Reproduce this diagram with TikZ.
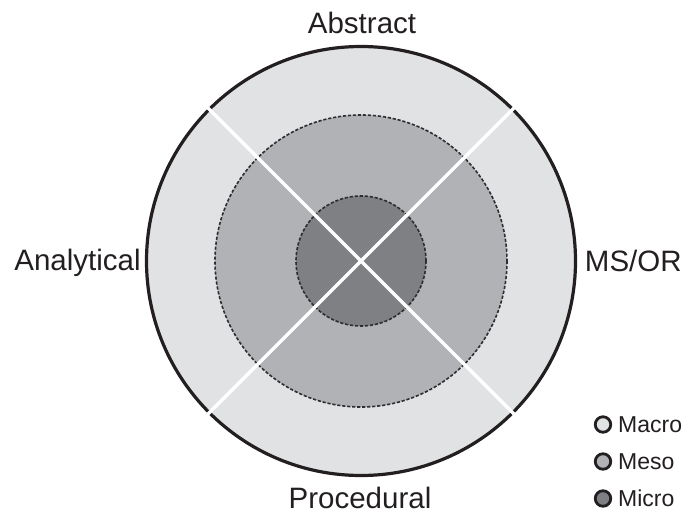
\documentclass[tikz,border=0pt]{standalone}
\usepackage{fontspec}
\usetikzlibrary{calc}
\setmainfont{Liberation Sans}
\definecolor{ink}{HTML}{231F20}
\definecolor{macro}{HTML}{E1E2E4}
\definecolor{meso}{HTML}{B1B2B5}
\definecolor{micro}{HTML}{7F8083}
\definecolor{ring}{HTML}{2E2D2F}
\begin{document}
\begin{tikzpicture}[x=1pt,y=-1pt,
  label/.style={text=ink,inner sep=0pt,anchor=base,font=\fontsize{29.5}{34}\selectfont},
  ringline/.style={draw=ring,line width=1.6pt,dash pattern=on 3.2pt off 1.8pt},
  divider/.style={draw=white,line width=3.2pt},
  keydot/.style={circle,draw=ink,line width=2.8pt,minimum size=15.5pt,inner sep=0pt},
  keytext/.style={text=ink,inner sep=0pt,anchor=base west,font=\fontsize{23}{27}\selectfont}]
\useasboundingbox (0,0) rectangle (688,516);
\coordinate (c) at (361,261);
% three nested levels
\fill[macro] (c) circle[radius=214.5];
\draw[ringline,fill=meso] (c) circle[radius=146];
\draw[ringline,fill=micro] (c) circle[radius=65];
\draw[ink,line width=3.2pt] (c) circle[radius=214.5];
% quadrant dividers
\coordinate (ne) at ($(c)+(45:217)$);
\coordinate (nw) at ($(c)+(135:217)$);
\coordinate (sw) at ($(c)+(225:217)$);
\coordinate (se) at ($(c)+(315:217)$);
\draw[divider] (ne) -- (sw);
\draw[divider] (nw) -- (se);
% axis labels
\node[label] (abstract) at (362,33.3) {Abstract};
\node[label] (analytical) at (77.5,270) {Analytical};
\node[label] (msor) at (633.3,271) {MS/OR};
\node[label] (procedural) at (360,508) {Procedural};
% legend
\node[keydot,fill=macro] (kmacro) at (603,424.5) {};
\node[keydot,fill=meso] (kmeso) at (603,461.5) {};
\node[keydot,fill=micro] (kmicro) at (603,498.5) {};
\node[keytext] (tmacro) at (618,432.5) {Macro};
\node[keytext] (tmeso) at (618,469.5) {Meso};
\node[keytext] (tmicro) at (618,506.5) {Micro};
\end{tikzpicture}
\end{document}
